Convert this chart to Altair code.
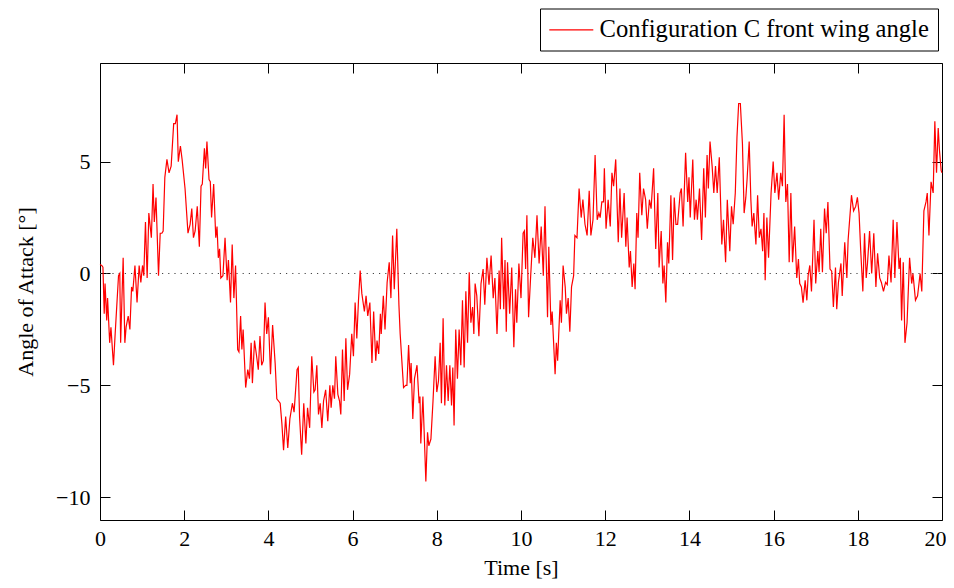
import altair as alt
import pandas as pd

SERIES = "Configuration C front wing angle"

TIME = [
    0.00, 0.04, 0.07, 0.10, 0.12, 0.16, 0.18, 0.23, 0.26, 0.32,
    0.36, 0.44, 0.47, 0.49, 0.55, 0.59, 0.62, 0.67, 0.71, 0.75,
    0.78, 0.83, 0.88, 0.93, 0.97, 1.01, 1.04, 1.08, 1.12, 1.16,
    1.22, 1.26, 1.29, 1.33, 1.39, 1.43, 1.47, 1.50, 1.54, 1.59,
    1.64, 1.69, 1.75, 1.79, 1.83, 1.86, 1.91, 1.95, 2.02, 2.09,
    2.14, 2.18, 2.22, 2.26, 2.31, 2.36, 2.40, 2.43, 2.48, 2.51,
    2.54, 2.59, 2.62, 2.65, 2.70, 2.75, 2.78, 2.81, 2.84, 2.87,
    2.92, 2.97, 3.02, 3.05, 3.10, 3.14, 3.18, 3.22, 3.27, 3.30,
    3.34, 3.37, 3.40, 3.46, 3.51, 3.55, 3.59, 3.62, 3.67, 3.72,
    3.76, 3.80, 3.84, 3.88, 3.92, 3.96, 4.00, 4.05, 4.10, 4.16,
    4.20, 4.28, 4.32, 4.36, 4.41, 4.46, 4.51, 4.57, 4.61, 4.68,
    4.71, 4.74, 4.79, 4.84, 4.89, 4.93, 4.98, 5.03, 5.08, 5.11,
    5.15, 5.19, 5.23, 5.27, 5.31, 5.36, 5.41, 5.46, 5.49, 5.53,
    5.57, 5.60, 5.65, 5.69, 5.72, 5.76, 5.80, 5.84, 5.88, 5.93,
    5.98, 6.02, 6.06, 6.10, 6.14, 6.18, 6.22, 6.28, 6.32, 6.36,
    6.41, 6.46, 6.50, 6.55, 6.58, 6.62, 6.66, 6.68, 6.73, 6.77,
    6.82, 6.87, 6.91, 6.95, 6.99, 7.05, 7.10, 7.13, 7.18, 7.21,
    7.26, 7.29, 7.33, 7.37, 7.39, 7.43, 7.47, 7.53, 7.58, 7.60,
    7.62, 7.67, 7.70, 7.74, 7.78, 7.81, 7.86, 7.91, 7.96, 8.00,
    8.04, 8.08, 8.11, 8.15, 8.19, 8.23, 8.27, 8.31, 8.35, 8.38,
    8.41, 8.45, 8.49, 8.53, 8.57, 8.61, 8.65, 8.69, 8.73, 8.77,
    8.81, 8.85, 8.88, 8.91, 8.95, 9.00, 9.05, 9.10, 9.14, 9.19,
    9.24, 9.29, 9.34, 9.38, 9.43, 9.48, 9.51, 9.54, 9.59, 9.62,
    9.65, 9.68, 9.73, 9.78, 9.83, 9.87, 9.90, 9.95, 10.00, 10.05,
    10.08, 10.11, 10.14, 10.18, 10.23, 10.28, 10.33, 10.38, 10.43, 10.48,
    10.53, 10.57, 10.63, 10.66, 10.71, 10.74, 10.81, 10.84, 10.87, 10.93,
    10.96, 11.00, 11.05, 11.08, 11.12, 11.16, 11.20, 11.25, 11.28, 11.33,
    11.38, 11.43, 11.47, 11.52, 11.57, 11.62, 11.66, 11.71, 11.76, 11.81,
    11.85, 11.88, 11.92, 11.96, 11.98, 12.02, 12.07, 12.12, 12.16, 12.20,
    12.25, 12.31, 12.35, 12.39, 12.45, 12.49, 12.52, 12.57, 12.60, 12.64,
    12.68, 12.71, 12.75, 12.78, 12.82, 12.87, 12.91, 12.96, 13.00, 13.05,
    13.09, 13.15, 13.20, 13.25, 13.28, 13.33, 13.37, 13.40, 13.44, 13.48,
    13.51, 13.56, 13.60, 13.64, 13.68, 13.72, 13.78, 13.81, 13.85, 13.91,
    13.96, 13.99, 14.02, 14.08, 14.12, 14.16, 14.19, 14.24, 14.29, 14.34,
    14.38, 14.42, 14.45, 14.49, 14.54, 14.58, 14.62, 14.66, 14.71, 14.77,
    14.81, 14.86, 14.90, 14.96, 15.00, 15.04, 15.09, 15.13, 15.17, 15.21,
    15.26, 15.30, 15.34, 15.37, 15.42, 15.46, 15.49, 15.53, 15.58, 15.62,
    15.66, 15.70, 15.74, 15.77, 15.80, 15.84, 15.88, 15.94, 15.99, 16.03,
    16.08, 16.12, 16.17, 16.21, 16.25, 16.29, 16.33, 16.37, 16.41, 16.45,
    16.50, 16.55, 16.59, 16.62, 16.66, 16.70, 16.75, 16.79, 16.82, 16.86,
    16.90, 16.96, 17.00, 17.05, 17.08, 17.12, 17.16, 17.21, 17.25, 17.29,
    17.34, 17.38, 17.42, 17.47, 17.50, 17.54, 17.60, 17.63, 17.69, 17.74,
    17.77, 17.85, 17.90, 17.95, 17.99, 18.03, 18.07, 18.12, 18.16, 18.20,
    18.23, 18.28, 18.33, 18.38, 18.43, 18.47, 18.52, 18.56, 18.61, 18.66,
    18.70, 18.74, 18.79, 18.84, 18.88, 18.93, 18.98, 19.01, 19.04, 19.08,
    19.12, 19.17, 19.23, 19.28, 19.31, 19.37, 19.42, 19.48, 19.52, 19.57,
    19.62, 19.65, 19.69, 19.74, 19.79, 19.83, 19.87, 19.91, 19.94, 19.98,
    20.00,
]

ANGLE = [
    0.40, 0.36, 0.28, -1.80, -0.45, -2.10, -1.10, -3.10, -2.40, -4.10,
    -2.70, -0.10, 0.00, -3.10, 0.70, -3.10, -2.40, -1.90, -2.50, -0.60,
    -0.80, 0.36, -1.30, 0.36, -0.40, 0.36, -0.10, 2.30, -0.20, 2.70,
    1.60, 4.00, 2.30, 3.40, -0.10, 1.80, 1.80, 1.90, 4.30, 5.10,
    4.50, 4.80, 6.70, 6.70, 7.10, 5.00, 5.70, 5.10, 3.80, 1.80,
    2.20, 2.90, 1.60, 1.90, 3.00, 1.20, 3.90, 4.00, 5.60, 4.70,
    5.90, 4.20, 4.10, 2.50, 4.00, 1.60, 2.10, 0.70, 1.10, -0.20,
    -0.10, 1.60, -0.30, 0.60, -1.30, 1.30, -1.10, 0.36, -3.40, -3.50,
    -1.90, -3.40, -2.50, -5.10, -4.30, -4.70, -3.10, -4.90, -3.00, -3.70,
    -4.30, -2.80, -4.10, -3.90, -1.30, -2.70, -1.96, -4.50, -2.30, -4.00,
    -5.60, -5.80, -6.70, -7.90, -6.40, -7.80, -6.50, -5.80, -6.20, -4.30,
    -4.20, -6.40, -8.10, -5.80, -7.60, -6.00, -6.90, -3.70, -5.30, -5.20,
    -4.10, -6.30, -5.80, -6.90, -5.70, -5.20, -6.60, -5.00, -6.00, -5.00,
    -5.60, -3.70, -5.40, -5.70, -6.30, -3.40, -5.70, -2.90, -5.20, -4.50,
    -2.70, -3.70, -1.30, -2.90, -1.20, 0.13, -0.90, -1.70, -1.00, -1.90,
    -1.30, -4.00, -1.70, -3.90, -3.00, -3.60, -1.80, -2.70, -1.00, -2.50,
    -0.40, 0.50, -1.10, 1.70, -0.70, 2.00, -1.40, -2.70, -4.20, -5.10,
    -5.00, -5.00, -3.20, -4.90, -4.00, -6.50, -4.70, -4.10, -5.80, -5.50,
    -7.60, -5.50, -7.10, -9.30, -7.10, -7.70, -7.40, -5.70, -3.70, -5.30,
    -4.80, -3.10, -5.80, -2.00, -5.90, -4.10, -5.70, -4.10, -5.90, -4.20,
    -6.80, -2.50, -4.70, -2.50, -4.10, -1.20, -4.20, -0.80, -3.10, 0.06,
    -2.20, -1.50, -2.70, -0.45, -1.00, -2.80, -0.45, 0.20, -1.40, 0.70,
    -0.50, 0.80, -1.10, -0.20, -2.70, 0.13, -1.60, 1.60, -1.60, 0.60,
    -2.60, 0.50, -1.80, 0.27, -3.30, -0.70, -2.20, 0.45, -1.10, 1.80,
    1.90, 0.20, 2.60, -1.96, -0.10, 1.60, 0.70, 2.60, 0.45, 2.10,
    -0.10, 3.00, -1.96, 1.20, -2.30, -1.70, -4.50, -3.10, -3.90, -1.20,
    -2.20, 0.36, -0.60, -1.80, -1.10, -2.60, -0.60, -0.10, 1.70, 1.60,
    3.80, 2.50, 3.30, 2.20, 1.70, 3.70, 1.70, 2.40, 5.30, 2.40,
    2.70, 2.50, 3.20, 3.20, 4.70, 2.00, 3.30, 2.10, 4.50, 3.90,
    5.10, 1.40, 3.80, 1.60, 3.60, 1.20, 2.50, 0.27, 1.00, -0.60,
    0.45, -0.70, 2.70, 1.60, 4.50, 2.60, 3.80, 3.30, 2.00, 3.30,
    2.90, 4.70, 1.10, 3.60, 0.27, 1.90, -0.45, 0.36, -1.30, 1.40,
    0.45, 3.50, 0.60, 3.40, 2.20, 2.20, 3.60, 3.80, 2.10, 5.40,
    3.20, 4.30, 2.50, 5.10, 2.40, 3.30, 2.40, 3.80, 1.50, 4.70,
    2.50, 5.30, 3.80, 5.90, 4.80, 3.60, 4.80, 3.60, 5.20, 1.30,
    2.40, 0.50, 3.30, 1.00, 3.00, 2.20, 3.60, 6.10, 7.60, 7.60,
    5.80, 2.70, 3.40, 4.20, 5.90, 3.30, 2.10, 2.70, 1.30, 3.50,
    1.60, 2.00, 1.00, 2.70, -0.30, 2.50, 0.70, 3.60, 5.00, 3.60,
    4.50, 3.30, 4.50, 3.90, 7.10, 3.20, 4.00, 0.50, 3.60, 0.50,
    2.10, -0.20, 0.65, -0.45, -0.60, -1.30, -0.30, -1.20, -0.10, 0.36,
    -0.80, 2.40, -0.45, 1.00, 0.06, 2.00, 0.06, 2.90, 1.80, 3.20,
    0.20, 0.10, -1.50, 0.27, -1.60, -0.40, 0.45, -1.00, 1.40, -0.20,
    1.50, 3.50, 2.80, 3.00, 3.40, 2.70, 1.00, -0.80, 1.80, -0.20,
    0.45, 1.90, 0.00, 1.80, -0.60, 0.90, -0.20, -0.40, -0.80, -0.40,
    -0.50, 0.80, -0.40, 2.40, -0.20, 2.30, 0.20, 0.70, -2.10, 0.50,
    -3.10, -2.20, 0.70, -0.45, 0.00, -1.20, -1.00, 0.00, -0.80, 2.80,
    3.20, 3.60, 1.70, 4.10, 3.60, 6.80, 4.50, 6.50, 5.50, 4.60,
    4.50,
]

X_TICKS = [0, 2, 4, 6, 8, 10, 12, 14, 16, 18, 20]
Y_TICKS = [-10, -5, 0, 5]
X_DOMAIN = [0, 20]
Y_DOMAIN = [-11.02, 9.41]
ZERO_LEVEL = [0]

assert len(TIME) == len(ANGLE)

df = pd.DataFrame({"t": TIME, "a": ANGLE, "s": SERIES})
zero_df = pd.DataFrame({"x0": [X_DOMAIN[0]], "x1": [X_DOMAIN[1]], "z": ZERO_LEVEL})

W, H = 842, 457
FONT = "Liberation Serif"

xs = alt.Scale(domain=X_DOMAIN, nice=False, zero=False)
ys = alt.Scale(domain=Y_DOMAIN, nice=False, zero=False)


def tick_axis(orient, values, offset):
    return alt.Axis(orient=orient, values=values, labels=False, ticks=True,
                    tickSize=10, tickColor="#000", tickWidth=1, domain=False,
                    grid=False, offset=offset, title=None)


x_main = alt.Axis(orient="bottom", values=X_TICKS, ticks=False, domain=False,
                  grid=False, labelFont=FONT, labelFontSize=22, labelColor="#000",
                  labelPadding=8, labelFlush=False,
                  labelOffset=alt.condition("datum.value == 20", alt.value(-7), alt.value(0)),
                  title="Time [s]", titleFont=FONT,
                  titleFontSize=22, titleFontWeight="normal", titleColor="#000",
                  titleY=47.5, titleBaseline="middle")

y_main = alt.Axis(orient="left", values=Y_TICKS, ticks=False, domain=False,
                  grid=False, labelFont=FONT, labelFontSize=22, labelColor="#000",
                  labelPadding=10, labelFlush=False,
                  title="Angle of Attack [°]", titleFont=FONT,
                  titleFontSize=22, titleFontWeight="normal", titleColor="#000",
                  titleX=-75, titleBaseline="middle")

zero_rule = alt.Chart(zero_df).mark_rule(
    color="#444", strokeDash=[1.2, 5], strokeWidth=1
).encode(
    x=alt.X("x0:Q", scale=xs, axis=tick_axis("top", X_TICKS, -H)),
    x2="x1:Q",
    y=alt.Y("z:Q", scale=ys, axis=tick_axis("right", Y_TICKS, -W)),
)

tick_layer = alt.Chart(zero_df).mark_rule(opacity=0).encode(
    x=alt.X("x0:Q", scale=xs, axis=tick_axis("bottom", X_TICKS, -H)),
    x2="x1:Q",
    y=alt.Y("z:Q", scale=ys, axis=tick_axis("left", Y_TICKS, -W)),
)

line = alt.Chart(df).mark_line(strokeWidth=1.2).encode(
    x=alt.X("t:Q", scale=xs, axis=x_main),
    y=alt.Y("a:Q", scale=ys, axis=y_main),
    color=alt.Color(
        "s:N",
        scale=alt.Scale(domain=[SERIES], range=["#ff0000"]),
        legend=alt.Legend(
            title=None, orient="none", legendX=440, legendY=-54.5,
            symbolType="M-1,0H3", symbolSize=484, symbolStrokeWidth=1.2,
            symbolOffset=-1, labelOffset=27, padding=9,
            strokeColor="#000", fillColor="#fff",
            labelFont=FONT, labelFontSize=24.6, labelColor="#000",
            labelLimit=600,
        ),
    ),
)

chart = alt.layer(zero_rule, tick_layer, line).resolve_axis(
    x="independent", y="independent"
).properties(
    width=W, height=H,
    padding={"left": 92, "top": 55, "right": 4, "bottom": 60},
    autosize=alt.AutoSizeParams(type="none"),
).configure_view(stroke="#000", strokeWidth=1)

chart.save("out.html", embed_options={"renderer": "svg", "actions": False})
